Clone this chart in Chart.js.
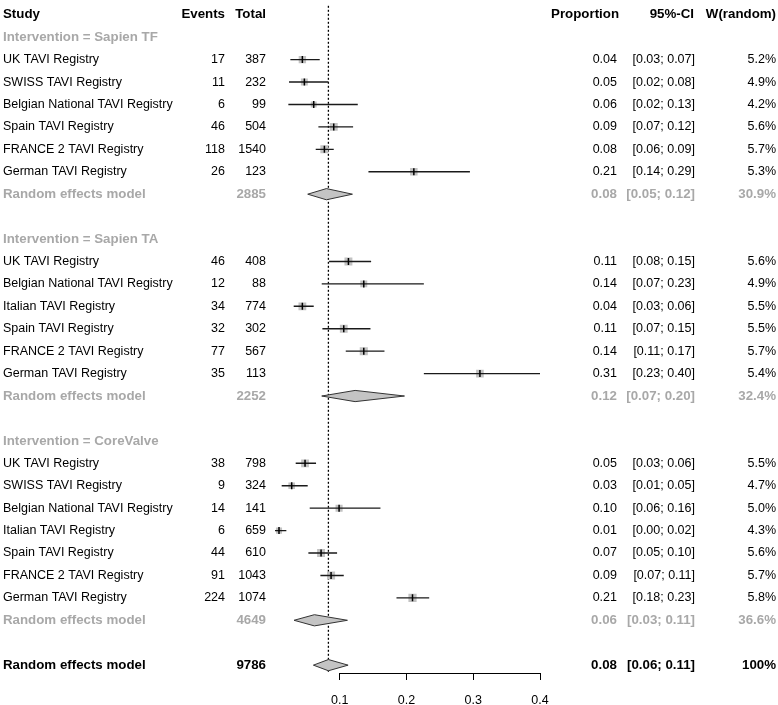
<!DOCTYPE html>
<html lang="en">
<head>
  <meta charset="UTF-8" />
  <title>Forest plot - TAVI registries</title>
  <script src="https://cdn.jsdelivr.net/npm/chart.js"></script>
  <style>
    body { margin: 0; padding: 0; background: #fff; }
    #wrap { width: 778px; height: 705px; }
  </style>
</head>
<body>
  <div id="wrap">
    <canvas id="forest" width="778" height="705"></canvas>
  </div>

  <script>
    // study level data
    const studyNames = [
      'UK TAVI Registry', 'SWISS TAVI Registry', 'Belgian National TAVI Registry',
      'Spain TAVI Registry', 'FRANCE 2 TAVI Registry', 'German TAVI Registry',
      'UK TAVI Registry', 'Belgian National TAVI Registry', 'Italian TAVI Registry',
      'Spain TAVI Registry', 'FRANCE 2 TAVI Registry', 'German TAVI Registry',
      'UK TAVI Registry', 'SWISS TAVI Registry', 'Belgian National TAVI Registry',
      'Italian TAVI Registry', 'Spain TAVI Registry', 'FRANCE 2 TAVI Registry', 'German TAVI Registry'
    ];
    const studyGroup = [0, 0, 0, 0, 0, 0, 1, 1, 1, 1, 1, 1, 2, 2, 2, 2, 2, 2, 2];
    const events = [17, 11, 6, 46, 118, 26, 46, 12, 34, 32, 77, 35, 38, 9, 14, 6, 44, 91, 224];
    const totals = [387, 232, 99, 504, 1540, 123, 408, 88, 774, 302, 567, 113, 798, 324, 141, 659, 610, 1043, 1074];
    const props = [0.044, 0.047, 0.061, 0.091, 0.077, 0.211, 0.113, 0.136, 0.044, 0.106, 0.136, 0.310,
                   0.048, 0.028, 0.099, 0.009, 0.072, 0.087, 0.209];
    const ciLow = [0.026, 0.024, 0.023, 0.068, 0.064, 0.143, 0.084, 0.073, 0.031, 0.074, 0.109, 0.226,
                   0.034, 0.013, 0.055, 0.003, 0.053, 0.071, 0.185];
    const ciHigh = [0.070, 0.083, 0.127, 0.120, 0.091, 0.295, 0.147, 0.226, 0.061, 0.146, 0.167, 0.403,
                    0.0645, 0.052, 0.161, 0.020, 0.096, 0.106, 0.234];
    const weights = [5.2, 4.9, 4.2, 5.6, 5.7, 5.3, 5.6, 4.9, 5.5, 5.5, 5.7, 5.4, 5.5, 4.7, 5.0, 4.3, 5.6, 5.7, 5.8];

    // subgroup summaries
    const groupNames = ['Sapien TF', 'Sapien TA', 'CoreValve'];
    const groupTotals = [2885, 2252, 4649];
    const groupProp = [0.080, 0.123, 0.062];
    const groupLow = [0.052, 0.073, 0.0315];
    const groupHigh = [0.119, 0.197, 0.1115];
    const groupWeight = [30.9, 32.4, 36.6];

    // overall
    const overallTotal = 9786;
    const overallProp = 0.083;
    const overallLow = 0.0605;
    const overallHigh = 0.1125;

    const xTicks = [0.1, 0.2, 0.3, 0.4];

    const FONT = '"Liberation Sans", Arial, sans-serif';
    const GREY = '#a8a8a8';

    // lay out rows: 0 = header, then groups, overall last
    const rows = [];
    let r = 1;
    groupNames.forEach((g, gi) => {
      rows.push({ kind: 'group', y: r++, gi: gi });
      studyNames.forEach((n, i) => {
        if (studyGroup[i] === gi) rows.push({ kind: 'study', y: r++, i: i });
      });
      rows.push({ kind: 'sub', y: r++, gi: gi });
      r++;
    });
    const overallRow = r;
    const yMin = -0.4, yMax = overallRow + 0.35;

    const studyRows = rows.filter(d => d.kind === 'study');
    const subRows = rows.filter(d => d.kind === 'sub');

    const ciData = [];
    studyRows.forEach(d => {
      ciData.push({ x: ciLow[d.i], y: d.y }, { x: ciHigh[d.i], y: d.y }, { x: null, y: null });
    });
    const pointData = studyRows.map(d => ({ x: props[d.i], y: d.y }));
    const squareSizes = studyRows.map(d => weights[d.i]);

    const H = 0.25;
    function diamond(lo, est, hi, y) {
      return [{ x: lo, y: y }, { x: est, y: y - H }, { x: hi, y: y }, { x: est, y: y + H }, { x: lo, y: y }];
    }
    const diamondSets = subRows.map(d => diamond(groupLow[d.gi], groupProp[d.gi], groupHigh[d.gi], d.y));
    diamondSets.push(diamond(overallLow, overallProp, overallHigh, overallRow));

    const fmt2 = v => v.toFixed(2);

    const textPlugin = {
      id: 'forestText',
      afterDraw(chart) {
        const ctx = chart.ctx;
        const ys = chart.scales.y;
        const xs = chart.scales.x;
        ctx.save();
        ctx.textBaseline = 'middle';

        function put(txt, x, y, align, color, bold) {
          ctx.font = (bold ? 'bold 13.3px ' : '12.5px ') + FONT;
          ctx.fillStyle = color;
          ctx.textAlign = align;
          ctx.fillText(txt, x, ys.getPixelForValue(y));
        }
        function cols(y, ev, tot, p, lo, hi, w, color, bold) {
          if (ev !== '') put(String(ev), 225, y, 'right', color, bold);
          put(String(tot), 266, y, 'right', color, bold);
          put(fmt2(p), 617, y, 'right', color, bold);
          put('[' + fmt2(lo) + '; ' + fmt2(hi) + ']', 695, y, 'right', color, bold);
          put(w, 776, y, 'right', color, bold);
        }

        // header
        put('Study', 3, 0, 'left', '#000', true);
        put('Events', 225, 0, 'right', '#000', true);
        put('Total', 266, 0, 'right', '#000', true);
        put('Proportion', 619, 0, 'right', '#000', true);
        put('95%-CI', 694, 0, 'right', '#000', true);
        put('W(random)', 776, 0, 'right', '#000', true);

        rows.forEach(d => {
          if (d.kind === 'group') {
            put('Intervention = ' + groupNames[d.gi], 3, d.y, 'left', GREY, true);
          } else if (d.kind === 'study') {
            const i = d.i;
            put(studyNames[i], 3, d.y, 'left', '#000', false);
            cols(d.y, events[i], totals[i], props[i], ciLow[i], ciHigh[i], weights[i].toFixed(1) + '%', '#000', false);
          } else {
            const g = d.gi;
            put('Random effects model', 3, d.y, 'left', GREY, true);
            cols(d.y, '', groupTotals[g], groupProp[g], groupLow[g], groupHigh[g], groupWeight[g].toFixed(1) + '%', GREY, true);
          }
        });

        put('Random effects model', 3, overallRow, 'left', '#000', true);
        cols(overallRow, '', overallTotal, overallProp, overallLow, overallHigh, '100%', '#000', true);

        // x axis line from first to last tick
        ctx.strokeStyle = '#000';
        ctx.lineWidth = 1;
        ctx.beginPath();
        ctx.moveTo(xs.getPixelForValue(xTicks[0]), xs.top + 0.5);
        ctx.lineTo(xs.getPixelForValue(xTicks[xTicks.length - 1]), xs.top + 0.5);
        ctx.stroke();
        ctx.restore();
      }
    };

    const datasets = [
      {
        label: 'estimate tick',
        data: pointData,
        showLine: false,
        pointStyle: 'line',
        pointRotation: 90,
        pointRadius: 3.5,
        pointBorderColor: '#000',
        pointBorderWidth: 1.5
      },
      {
        label: 'CI',
        data: ciData,
        showLine: true,
        spanGaps: false,
        borderColor: '#1a1a1a',
        borderWidth: 1.4,
        pointRadius: 0
      },
      {
        label: 'weight square',
        data: pointData,
        showLine: false,
        pointStyle: 'rect',
        pointRadius: squareSizes,
        pointBackgroundColor: '#c2c2c2',
        pointBorderWidth: 0
      }
    ];
    diamondSets.forEach(ds => {
      datasets.push({
        label: 'diamond',
        data: ds,
        showLine: true,
        fill: 'shape',
        backgroundColor: '#c4c4c4',
        borderColor: '#333',
        borderWidth: 1,
        pointRadius: 0
      });
    });
    datasets.push({
      label: 'pooled',
      data: [{ x: overallProp, y: yMin }, { x: overallProp, y: yMax }],
      showLine: true,
      borderColor: '#000',
      borderWidth: 1.3,
      borderDash: [2, 2],
      pointRadius: 0,
      clip: false
    });

    const chart = new Chart(document.getElementById('forest').getContext('2d'), {
      type: 'line',
      data: { datasets: datasets },
      options: {
        responsive: false,
        animation: false,
        events: [],
        elements: { line: { tension: 0 } },
        layout: { padding: { left: 273, right: 238, top: 0, bottom: 0 } },
        plugins: {
          legend: { display: false },
          tooltip: { enabled: false }
        },
        scales: {
          x: {
            type: 'linear',
            min: 0,
            max: 0.4,
            position: 'bottom',
            afterBuildTicks: s => { s.ticks = xTicks.map(v => ({ value: v })); },
            afterFit: s => { s.height = 32; },
            border: { display: false },
            grid: { drawOnChartArea: false, drawTicks: true, tickLength: 7, color: '#000', lineWidth: 1 },
            ticks: {
              color: '#000',
              padding: 13,
              font: { family: FONT, size: 12.5 },
              callback: v => v.toFixed(1)
            }
          },
          y: {
            type: 'linear',
            reverse: true,
            min: yMin,
            max: yMax,
            display: false
          }
        }
      },
      plugins: [textPlugin]
    });
  </script>
</body>
</html>
